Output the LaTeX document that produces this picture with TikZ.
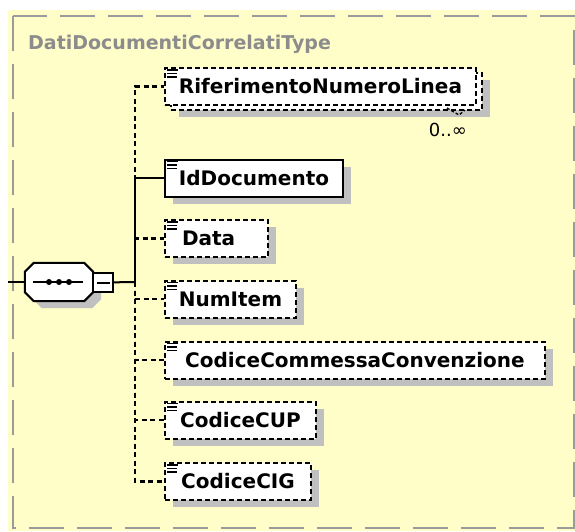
\documentclass[tikz,border=0pt]{standalone}
\usepackage{fontspec}
\setmainfont{DejaVu Sans}
\usetikzlibrary{calc,shadows}

\definecolor{panel}{RGB}{255,253,200}
\definecolor{framegray}{RGB}{155,155,155}
\definecolor{titlegray}{RGB}{140,140,140}
\definecolor{shade}{RGB}{192,192,192}

\begin{document}
\begin{tikzpicture}[
    x=1pt, y=-1pt,
    box/.style={rectangle, draw, fill=white, line width=2pt, minimum height=37pt,
        inner xsep=6pt, inner ysep=0pt, anchor=west, font=\bfseries\fontsize{20}{24}\selectfont},
    shadowed/.style={drop shadow={shadow xshift=8pt, shadow yshift=-7pt, fill=shade, opacity=1, draw=none}},
    elem/.style={box, shadowed},
    optional/.style={elem, dash pattern=on 5pt off 3pt},
    repeated/.style={box, dash pattern=on 5pt off 3pt,
        drop shadow={shadow xshift=14pt, shadow yshift=-12pt, fill=shade, opacity=1, draw=none},
        copy shadow={shadow xshift=6pt, shadow yshift=-5pt}},
    seqspace/.style={rectangle, minimum width=68pt, minimum height=38pt, inner sep=0pt},
    outline/.style={draw, fill=white, line width=2pt},
    minusbox/.style={rectangle, draw, fill=white, line width=2pt, minimum width=20pt,
        minimum height=19pt, inner sep=0pt},
    link/.style={line width=2pt},
    optlink/.style={line width=2.2pt, dash pattern=on 5pt off 3.5pt},
    icon/.style={line width=1.3pt},
    title/.style={font=\bfseries\fontsize{19}{23}\selectfont, text=titlegray, inner sep=0pt},
    mult/.style={font=\fontsize{18}{22}\selectfont, inner sep=0pt},
    frame/.style={draw=framegray, line width=2pt, dash pattern=on 35pt off 13pt}
]
    \useasboundingbox (0,0) rectangle (575,531);
    \fill[white] (0,0) rectangle (575,531);
    \fill[panel] (8,10) rectangle (575,531);
    \draw[frame] (13,16) rectangle (574,528);

    \node[title, anchor=base west] (title) at (28,49) {DatiDocumentiCorrelatiType};

    % sequence compositor
    \node[seqspace] (seq) at (59,282) {};
    \draw[outline, shadowed] ($(seq.north west)+(0,9)$) -- ($(seq.north west)+(9,0)$)
        -- ($(seq.north east)+(-9,0)$) -- ($(seq.north east)+(0,9)$)
        -- ($(seq.south east)+(0,-9)$) -- ($(seq.south east)+(-9,0)$)
        -- ($(seq.south west)+(9,0)$) -- ($(seq.south west)+(0,-9)$) -- cycle;
    \draw[link] ($(seq.center)+(-26,0)$) -- ($(seq.center)+(24,0)$);
    \foreach \dx in {-10,0,10}
        \fill ($(seq.center)+(\dx,0)$) circle (3pt);
    \node[minusbox] (minus) at (103,282.5) {};
    \draw[link] ($(minus.center)+(-6,0)$) -- ($(minus.center)+(7,0)$);

    % child elements
    \node[repeated, minimum width=311pt] (rif) at (164,86.5) {RiferimentoNumeroLinea};
    \node[elem, minimum width=178pt] (iddoc) at (164,178) {IdDocumento};
    \node[optional, text width=69pt, inner xsep=17pt, align=left] (data) at (164,238.5) {Data};
    \node[optional, minimum width=131pt] (numitem) at (164,299) {NumItem};
    \node[optional, minimum width=380pt] (ccc) at (164,360) {CodiceCommessaConvenzione};
    \node[optional, minimum width=151pt] (cup) at (164,420) {CodiceCUP};
    \node[optional, minimum width=146pt] (cig) at (164,481.5) {CodiceCIG};

    % occurrence of the repeated element
    \node[mult, anchor=north east] (mult) at ($(rif.south east)+(-10,16.5)$) {0..∞};
    \draw[line width=1.3pt, dash pattern=on 3pt off 2pt]
        ($(rif.south east)+(-30,2)$) -- ++(12,7) -- ++(6,-5);

    % element icons
    \foreach \n in {rif,iddoc,data,numitem,ccc,cup,cig} {
        \draw[icon] ($(\n.north west)+(3,3)$) -- ++(11,0);
        \draw[icon] ($(\n.north west)+(3,6.5)$) -- ++(10,0);
        \draw[icon] ($(\n.north west)+(3,10)$) -- ++(10,0);
    }

    % connectors
    \coordinate (in) at (8,282);
    \coordinate (j) at (135,282);
    \draw[link] (in) -- (seq);
    \draw[link] (minus) -- (j);
    \draw[link] (j) |- (iddoc);
    \foreach \n in {rif,data,numitem,ccc,cup,cig}
        \draw[optlink] (j) |- (\n);
\end{tikzpicture}
\end{document}
